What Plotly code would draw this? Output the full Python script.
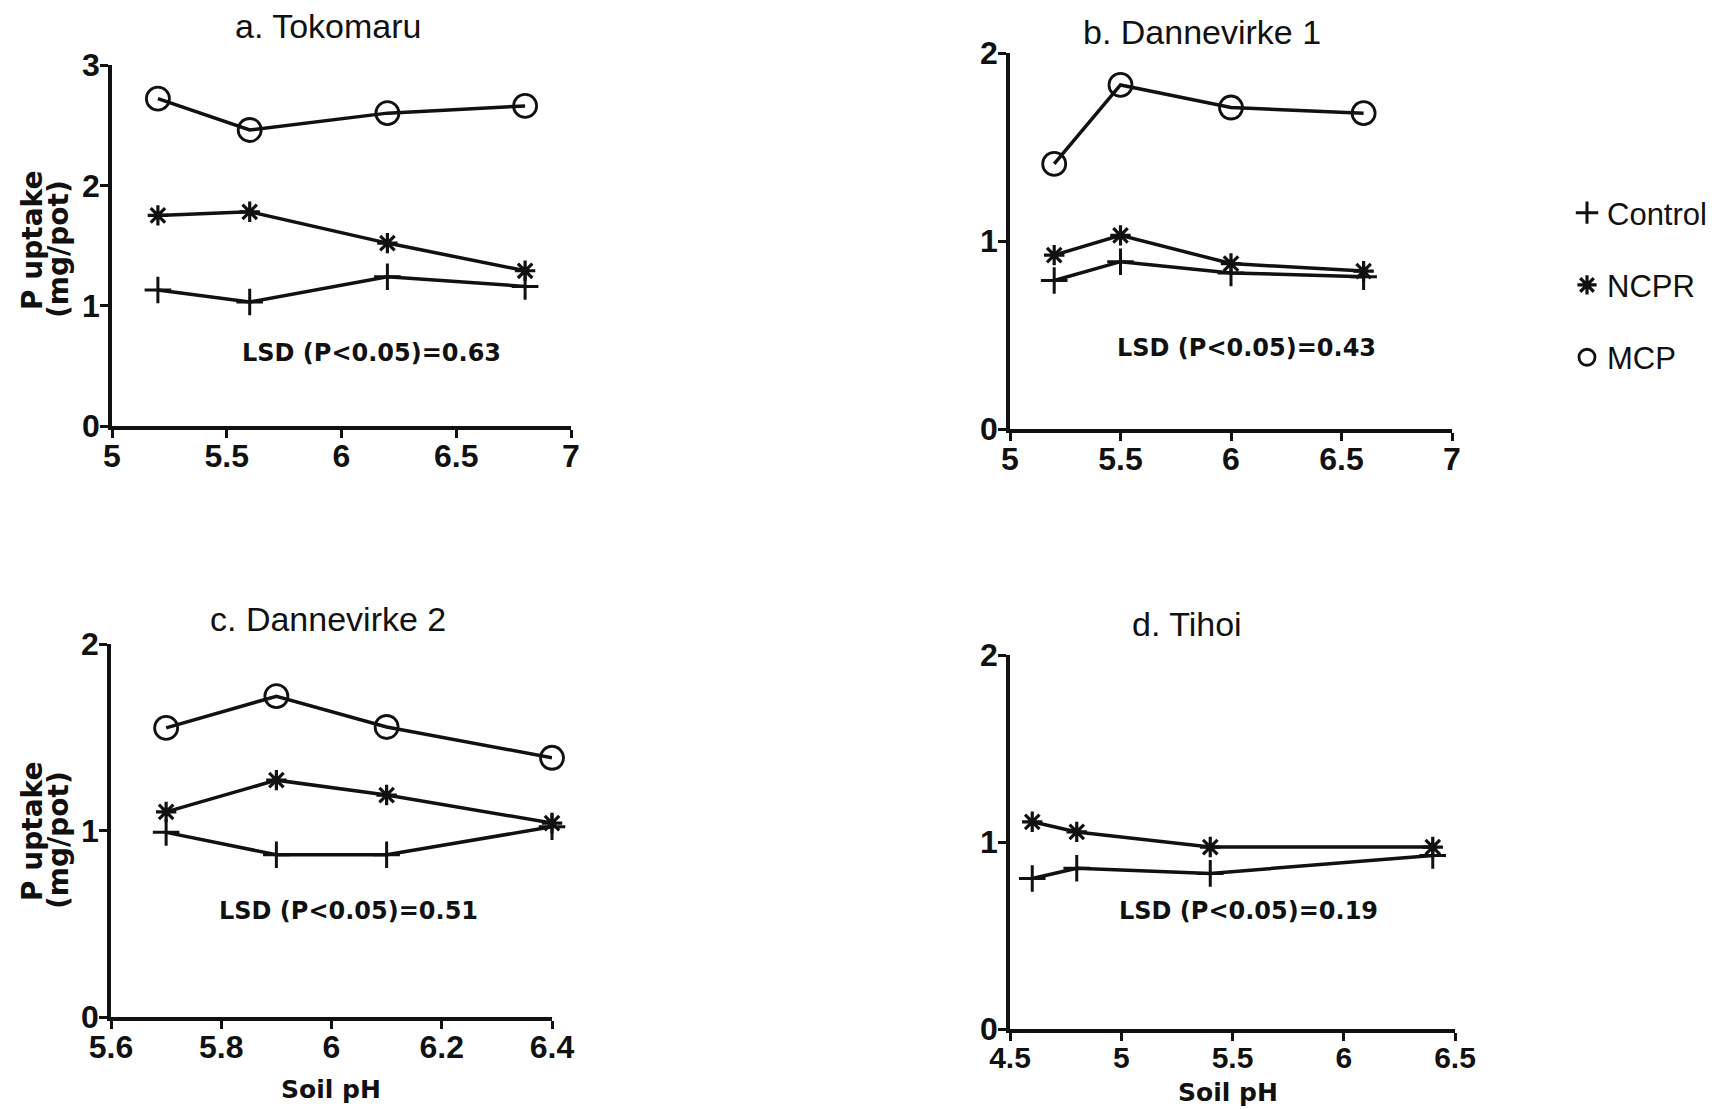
import plotly.graph_objects as go

W, H = 1716, 1109

# ---------------- data ----------------
ph_a = [5.2, 5.6, 6.2, 6.8]
control_a = [1.13, 1.03, 1.24, 1.16]
ncpr_a = [1.75, 1.78, 1.52, 1.29]
mcp_a = [2.72, 2.46, 2.60, 2.66]

ph_b = [5.2, 5.5, 6.0, 6.6]
control_b = [0.79, 0.89, 0.83, 0.81]
ncpr_b = [0.925, 1.03, 0.88, 0.84]
mcp_b = [1.41, 1.83, 1.71, 1.68]

ph_c = [5.7, 5.9, 6.1, 6.4]
control_c = [0.99, 0.87, 0.87, 1.02]
ncpr_c = [1.10, 1.27, 1.19, 1.04]
mcp_c = [1.55, 1.72, 1.555, 1.39]

ph_d = [4.6, 4.8, 5.4, 6.4]
control_d = [0.805, 0.86, 0.832, 0.928]
ncpr_d = [1.108, 1.054, 0.973, 0.973]

titles = ["a. Tokomaru", "b. Dannevirke 1", "c. Dannevirke 2", "d. Tihoi"]
lsd_labels = ["LSD (P<0.05)=0.63", "LSD (P<0.05)=0.43", "LSD (P<0.05)=0.51", "LSD (P<0.05)=0.19"]
series_names = ["Control", "NCPR", "MCP"]

xticks_a = [5, 5.5, 6, 6.5, 7]
xticks_b = [5, 5.5, 6, 6.5, 7]
xticks_c = [5.6, 5.8, 6, 6.2, 6.4]
xticks_d = [4.5, 5, 5.5, 6, 6.5]
yticks_a = [0, 1, 2, 3]
yticks_bcd = [0, 1, 2]

# ---------------- layout helpers (pixel boxes) ----------------
def xd(l, r):
    return [l / W, r / W]

def yd(t, b):
    return [1 - b / H, 1 - t / H]

panels = [
    dict(x=xd(112, 571), y=yd(65, 426), xr=[5, 7], yr=[0, 3], xt=xticks_a, yt=yticks_a, fs=32),
    dict(x=xd(1010, 1452), y=yd(53, 429), xr=[5, 7], yr=[0, 2], xt=xticks_b, yt=yticks_bcd, fs=32),
    dict(x=xd(111, 552), y=yd(644, 1017), xr=[5.6, 6.4], yr=[0, 2], xt=xticks_c, yt=yticks_bcd, fs=32),
    dict(x=xd(1010, 1455), y=yd(655, 1029), xr=[4.5, 6.5], yr=[0, 2], xt=xticks_d, yt=yticks_bcd, fs=30),
]

BLACK = "#111111"
SANS = "Liberation Sans, Arial, sans-serif"
GENEVA = "DejaVu Sans, Verdana, sans-serif"
styles = {
    "Control": dict(symbol="cross-thin-open", size=19, line=dict(width=3, color=BLACK)),
    "NCPR": dict(symbol="asterisk-open", size=17, line=dict(width=3.2, color=BLACK)),
    "MCP": dict(symbol="circle-open", size=23, line=dict(width=2.8, color=BLACK)),
}

fig = go.Figure()

data = [
    (ph_a, {"Control": control_a, "NCPR": ncpr_a, "MCP": mcp_a}),
    (ph_b, {"Control": control_b, "NCPR": ncpr_b, "MCP": mcp_b}),
    (ph_c, {"Control": control_c, "NCPR": ncpr_c, "MCP": mcp_c}),
    (ph_d, {"Control": control_d, "NCPR": ncpr_d}),
]

for i, (xs, ser) in enumerate(data):
    sfx = "" if i == 0 else str(i + 1)
    for name, ys in ser.items():
        fig.add_trace(go.Scatter(
            x=xs, y=ys, mode="lines+markers", name=name, showlegend=False,
            line=dict(color=BLACK, width=3.5),
            marker=dict(color=BLACK, **styles[name]),
            xaxis="x" + sfx, yaxis="y" + sfx, cliponaxis=False,
        ))

# legend-only entries
for name in series_names:
    fig.add_trace(go.Scatter(
        x=[None], y=[None], mode="markers", name=name, legendgroup=name,
        marker=dict(color=BLACK, **styles[name]),
    ))

layout = dict(
    width=W, height=H,
    margin=dict(l=0, r=0, t=0, b=0, pad=0, autoexpand=False),
    paper_bgcolor="white", plot_bgcolor="white",
    font=dict(family=SANS, color=BLACK),
    legend=dict(x=1567 / W, y=1 - 186 / H, xanchor="left", yanchor="top",
                font=dict(size=31, family=SANS),
                tracegroupgap=29, traceorder="grouped", bgcolor="rgba(0,0,0,0)"),
)

for i, p in enumerate(panels):
    sfx = "" if i == 0 else str(i + 1)
    layout["xaxis" + sfx] = dict(
        domain=p["x"], range=p["xr"], tickvals=p["xt"], anchor="y" + sfx,
        showline=True, linecolor=BLACK, linewidth=3.5, ticks="outside", ticklen=8,
        tickwidth=3, tickcolor=BLACK, showgrid=False, zeroline=False,
        tickfont=dict(size=p["fs"], family=SANS, weight="bold"), ticklabelstandoff=-9,
        fixedrange=True, automargin=False,
    )
    layout["yaxis" + sfx] = dict(
        domain=p["y"], range=p["yr"], tickvals=p["yt"], anchor="x" + sfx,
        showline=True, linecolor=BLACK, linewidth=3.5, ticks="outside", ticklen=8,
        tickwidth=3, tickcolor=BLACK, showgrid=False, zeroline=False,
        tickfont=dict(size=32, family=SANS, weight="bold"), ticklabelstandoff=-6,
        fixedrange=True, automargin=False,
    )

fig.update_layout(**layout)

ann = []
# panel titles
title_pos = [(328, 26), (1202, 32), (328, 619), (1187, 624)]
for t, (cx, cy) in zip(titles, title_pos):
    ann.append(dict(text=t, x=cx / W, y=1 - cy / H, xref="paper", yref="paper",
                    showarrow=False, xanchor="center", yanchor="middle",
                    font=dict(size=34, family=SANS, color=BLACK)))

# LSD labels (data coordinates)
lsd_pos = [(6.13, 0.61), (6.07, 0.43), (6.03, 0.57), (5.57, 0.63)]
for i, (txt, (lx, ly)) in enumerate(zip(lsd_labels, lsd_pos)):
    sfx = "" if i == 0 else str(i + 1)
    ann.append(dict(text="<b>" + txt + "</b>", x=lx, y=ly, xref="x" + sfx, yref="y" + sfx,
                    showarrow=False, xanchor="center", yanchor="middle",
                    font=dict(size=24, family=GENEVA, color=BLACK)))

# y-axis titles (two rotated lines) for panels a and c
for cy in (241, 832):
    for line, cx, dy in (("P uptake", 32, 0), ("(mg/pot)", 58, 8)):
        ann.append(dict(text="<b>" + line + "</b>", x=cx / W, y=1 - (cy + dy) / H,
                        xref="paper", yref="paper", showarrow=False, textangle=-90,
                        xanchor="center", yanchor="middle",
                        font=dict(size=28, family=GENEVA, color=BLACK)))

# x-axis titles for bottom panels
for cx, cy in ((331, 1089), (1228, 1092)):
    ann.append(dict(text="<b>Soil pH</b>", x=cx / W, y=1 - cy / H, xref="paper", yref="paper",
                    showarrow=False, xanchor="center", yanchor="middle",
                    font=dict(size=25, family=GENEVA, color=BLACK)))

fig.update_layout(annotations=ann)
fig.write_html("out.html")
